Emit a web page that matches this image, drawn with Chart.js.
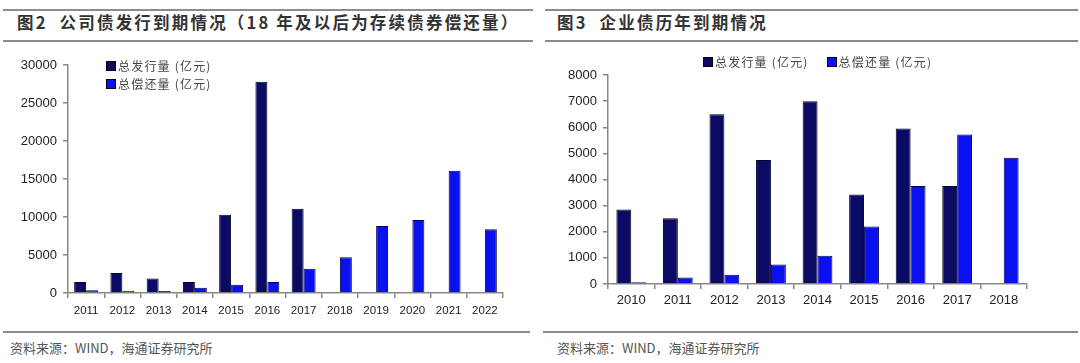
<!DOCTYPE html>
<html>
<head>
<meta charset="utf-8">
<script src="https://cdn.jsdelivr.net/npm/chart.js@4"></script>
<style>
  body { margin:0; width:1080px; height:363px; background:#fff; position:relative; overflow:hidden;
         font-family:"Noto Sans CJK SC", sans-serif; }
  .line { position:absolute; height:2px; background:#8c8c8c; }
  .title { position:absolute; top:10px; font-size:16.5px; font-weight:bold; color:#333; white-space:nowrap; letter-spacing:2.2px; }
  .src { position:absolute; top:338px; font-size:13px; color:#555; white-space:nowrap; }
  .box { position:absolute; }
  .legend { position:absolute; font-size:12px; color:#444; line-height:18px; white-space:nowrap; letter-spacing:1.2px; }
  .legend span.sw { display:inline-block; width:8px; height:8px; margin-right:2px; vertical-align:0px; }
</style>
</head>
<body>
<div class="line" style="left:3px;width:530px;top:9px"></div>
<div class="line" style="left:3px;width:530px;top:40px"></div>
<div class="line" style="left:3px;width:527px;top:331px"></div>
<div class="title" style="left:17px">图2&nbsp;&nbsp;公司债发行到期情况（18 年及以后为存续债券偿还量）</div>
<div class="src" style="left:10px">资料来源：WIND，海通证券研究所</div>
<div class="box" style="left:0;top:45px;width:540px;height:278px"><canvas id="c1"></canvas></div>
<div class="legend" id="lg1" style="left:106px;top:57px"></div>

<div class="line" style="left:545px;width:533px;top:9px"></div>
<div class="line" style="left:545px;width:533px;top:40px"></div>
<div class="line" style="left:543px;width:535px;top:331px"></div>
<div class="title" style="left:557px">图3&nbsp;&nbsp;企业债历年到期情况</div>
<div class="src" style="left:557px">资料来源：WIND，海通证券研究所</div>
<div class="box" style="left:540px;top:45px;width:530px;height:269px"><canvas id="c2"></canvas></div>
<div class="legend" id="lg2" style="left:703px;top:53px"></div>

<script>
// 图2 公司债
var years1 = ["2011","2012","2013","2014","2015","2016","2017","2018","2019","2020","2021","2022"];
var issue1 = [1450, 2630, 1900, 1450, 10300, 27800, 11100, null, null, null, null, null];
var repay1 = [350, 300, 250, 700, 1100, 1450, 3200, 4700, 8800, 9600, 16100, 8400];
var ticks1 = [0, 5000, 10000, 15000, 20000, 25000, 30000];

// 图3 企业债
var years2 = ["2010","2011","2012","2013","2014","2015","2016","2017","2018"];
var issue2 = [2850, 2520, 6500, 4750, 7000, 3430, 5950, 3750, null];
var repay2 = [70, 250, 350, 750, 1080, 2200, 3750, 5720, 4830];
var ticks2 = [0, 1000, 2000, 3000, 4000, 5000, 6000, 7000, 8000];

var seriesNames = ["总发行量 (亿元)", "总偿还量 (亿元)"];
var issueColor = "#0b0b66";
var repayColor = "#0a10f0";

Chart.defaults.font.family = "'Liberation Sans', Arial, sans-serif";
Chart.defaults.font.size = 13;
Chart.defaults.color = "#222";
Chart.defaults.animation = false;

function makeChart(id, labels, issue, repay, ticks, pad, catPct, xFont, xPad) {
  return new Chart(document.getElementById(id), {
    type: "bar",
    data: {
      labels: labels,
      datasets: [
        { label: seriesNames[0], data: issue, backgroundColor: issueColor, borderColor: "#000022", borderWidth: 1,
          categoryPercentage: catPct, barPercentage: 1 },
        { label: seriesNames[1], data: repay, backgroundColor: repayColor, borderColor: "#000050", borderWidth: 1,
          categoryPercentage: catPct, barPercentage: 1 }
      ]
    },
    options: {
      responsive: true,
      maintainAspectRatio: false,
      layout: { padding: pad },
      plugins: { legend: { display: false }, tooltip: { enabled: false } },
      scales: {
        x: {
          grid: { drawOnChartArea: false, color: "#888", tickLength: 5, lineWidth: 1.5 },
          border: { color: "#888", width: 1.5 },
          ticks: { padding: xPad, maxRotation: 0, autoSkip: false, font: { size: xFont } },
          afterFit: function (s) { s.height = 30; }
        },
        y: {
          min: ticks[0],
          max: ticks[ticks.length - 1],
          afterBuildTicks: function (s) { s.ticks = ticks.map(function (v) { return { value: v }; }); },
          grid: { drawOnChartArea: false, color: "#888", tickLength: 5, lineWidth: 1.5 },
          border: { color: "#888", width: 1.5 },
          ticks: { padding: 6, callback: function (v) { return String(v); } },
          afterFit: function (s) { s.width = 68; }
        }
      }
    }
  });
}

var chart1 = makeChart("c1", years1, issue1, repay1, ticks1, { top: 20, right: 37, bottom: 0, left: 0 }, 0.66, 11.5, 6);
var chart2 = makeChart("c2", years2, issue2, repay2, ticks2, { top: 30, right: 43, bottom: 0, left: 0 }, 0.64, 13, 4);

function swatch(c) { return '<span class="sw" style="background:' + c + ';border:1px solid #000"></span>'; }
document.getElementById("lg1").innerHTML =
  swatch(issueColor) + seriesNames[0] + "<br>" + swatch(repayColor) + seriesNames[1];
document.getElementById("lg2").innerHTML =
  swatch(issueColor) + seriesNames[0] + '<span style="display:inline-block;width:18px"></span>' + swatch(repayColor) + seriesNames[1];
</script>
</body>
</html>
